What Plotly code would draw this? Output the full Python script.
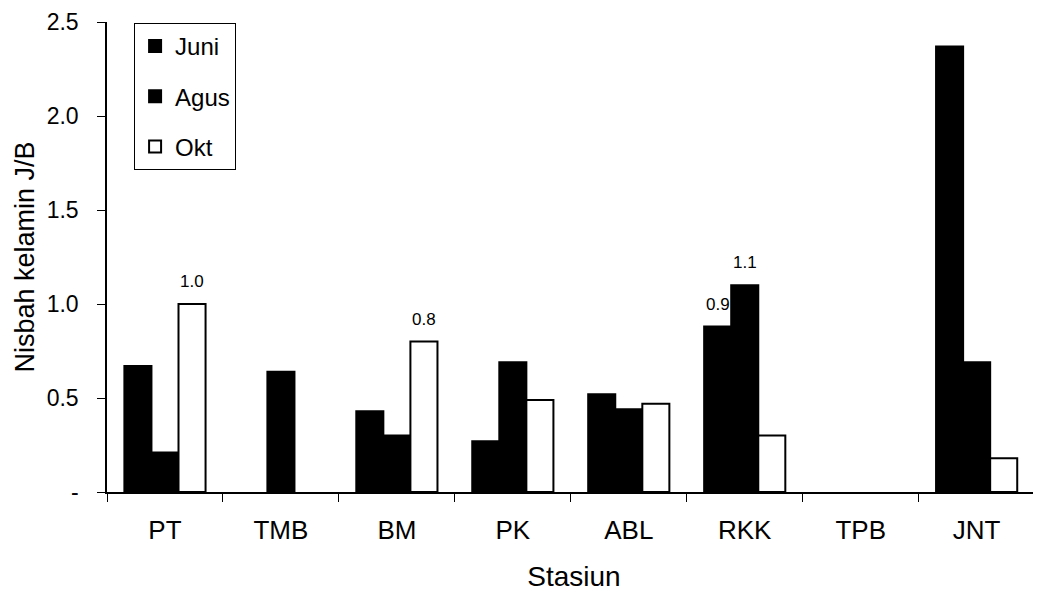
import plotly.graph_objects as go

stations = ["PT", "TMB", "BM", "PK", "ABL", "RKK", "TPB", "JNT"]
juni = [0.67, None, 0.43, 0.27, 0.52, 0.88, None, 2.37]
agus = [0.21, 0.64, 0.30, 0.69, 0.44, 1.10, None, 0.69]
okt = [1.00, None, 0.80, 0.49, 0.47, 0.30, None, 0.18]
juni_labels = ["", "", "", "", "", "0.9", "", ""]
agus_labels = ["", "", "", "", "", "1.1", "", ""]
okt_labels = ["1.0", "", "0.8", "", "", "", "", ""]
y_tickvals = [0, 0.5, 1.0, 1.5, 2.0, 2.5]
y_ticktext = ["-", "0.5", "1.0", "1.5", "2.0", "2.5"]

FONT = "Liberation Sans, Arial, sans-serif"
BARGAP = 0.3

fig = go.Figure()
series = [
    ("Juni", juni, juni_labels, "black"),
    ("Agus", agus, agus_labels, "black"),
    ("Okt", okt, okt_labels, "white"),
]
n = len(series)
slot = (1 - BARGAP) / n
for i, (name, vals, labels, fill) in enumerate(series):
    fig.add_trace(go.Bar(
        name=name, x=stations, y=vals,
        marker=dict(color=fill, line=dict(color="black", width=2)),
        legendgroup=f"g{i}",
    ))
    for j, (v, lab) in enumerate(zip(vals, labels)):
        if lab and v is not None:
            fig.add_annotation(
                x=j + (i - (n - 1) / 2) * slot, y=v, text=lab,
                showarrow=False, yanchor="bottom", yshift=11,
                font=dict(size=17, color="black", family=FONT),
            )

# page body has an 8px default margin, so the figure is sized/offset to fit
fig.update_layout(
    width=1033, height=584,
    paper_bgcolor="white", plot_bgcolor="white",
    margin=dict(l=99, r=0, t=14, b=100, autoexpand=False),
    barmode="group", bargap=BARGAP, bargroupgap=0,
    font=dict(family=FONT, color="black"),
    showlegend=True,
    legend=dict(
        x=0.029, y=0.998, xanchor="left", yanchor="top",
        bordercolor="black", borderwidth=1, bgcolor="white",
        font=dict(size=24, family=FONT, color="black"),
        tracegroupgap=16, traceorder="grouped",
    ),
)
fig.update_xaxes(
    range=[-0.5, 7.555], showline=True, linecolor="black", linewidth=1.5,
    ticks="outside", tickson="boundaries", ticklen=8, tickcolor="black",
    ticklabelstandoff=14,
    tickfont=dict(size=26, family=FONT, color="black"),
    title=dict(text="Stasiun", font=dict(size=28, family=FONT, color="black"), standoff=24),
    showgrid=False, zeroline=False, automargin=False,
)
fig.update_yaxes(
    range=[0, 2.5], showline=True, linecolor="black", linewidth=1.5,
    ticks="outside", ticklen=8, tickcolor="black",
    ticklabelstandoff=14,
    tickvals=y_tickvals, ticktext=y_ticktext,
    tickfont=dict(size=23, family=FONT, color="black"),
    title=dict(text="Nisbah kelamin J/B", font=dict(size=27, family=FONT, color="black"), standoff=4),
    showgrid=False, zeroline=False, automargin=False,
)

fig.write_html("out.html")
